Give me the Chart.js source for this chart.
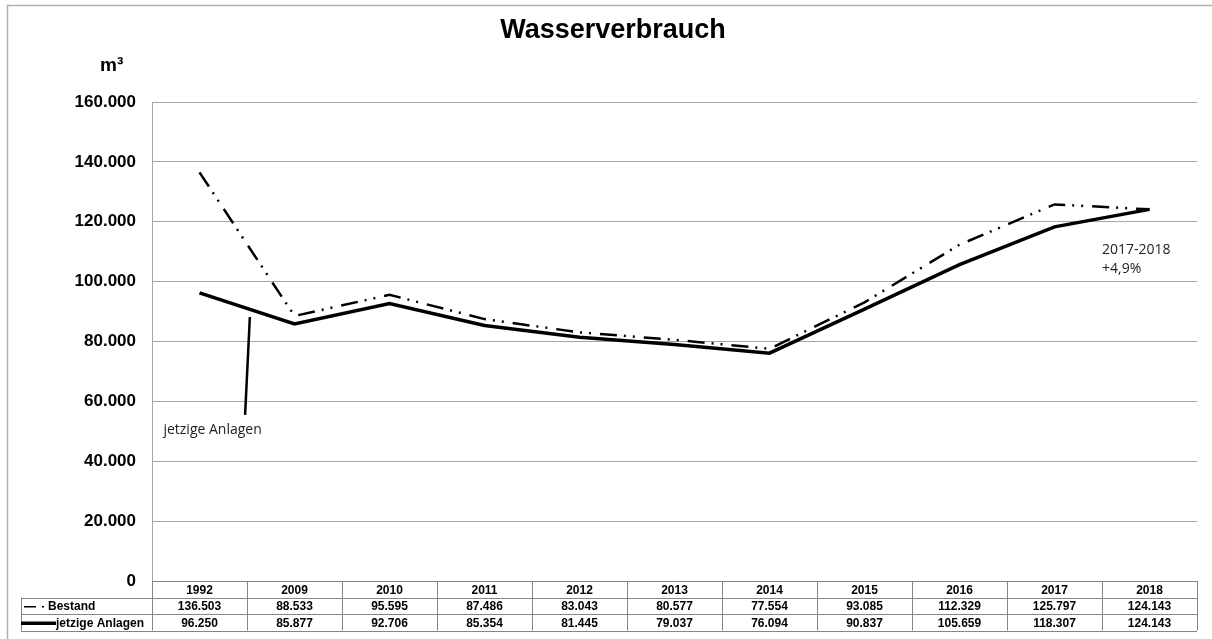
<!DOCTYPE html>
<html>
<head>
<meta charset="utf-8">
<title>Wasserverbrauch</title>
<script src="https://cdn.jsdelivr.net/npm/chart.js@4"></script>
<style>
  body { margin: 0; background: #fff; }
  canvas { display: block; }
</style>
</head>
<body>
<canvas id="myChart" width="1212" height="639"></canvas>
<script>
var years = ["1992", "2009", "2010", "2011", "2012", "2013", "2014", "2015", "2016", "2017", "2018"];
var bestand = [136503, 88533, 95595, 87486, 83043, 80577, 77554, 93085, 112329, 125797, 124143];
var jetzigeAnlagen = [96250, 85877, 92706, 85354, 81445, 79037, 76094, 90837, 105659, 118307, 124143];
var yTicks = [0, 20000, 40000, 60000, 80000, 100000, 120000, 140000, 160000];

var gridGray = "#a6a6a6";
var tableGray = "#858585";
var bestandDash = [17, 7, 2, 7, 2, 9];

function fmt(v) {
    return String(v).replace(/\B(?=(\d{3})+(?!\d))/g, ".");
}

// frame, title, unit label, annotations and the data table under the axis
var extras = {
    id: 'extras',
    beforeDraw: function (chart) {
        var c = chart.ctx;
        c.save();
        c.fillStyle = "#fff";
        c.fillRect(0, 0, chart.width, chart.height);
        c.strokeStyle = "#b0b0b0";
        c.lineWidth = 1.5;
        c.beginPath();
        c.moveTo(7.5, chart.height);
        c.lineTo(7.5, 5.5);
        c.lineTo(chart.width, 5.5);
        c.stroke();
        c.restore();
    },
    afterDraw: function (chart) {
        var c = chart.ctx;
        var x = chart.scales.x;
        var y = chart.scales.y;
        var area = chart.chartArea;
        c.save();

        // title + unit
        c.fillStyle = "#000";
        c.textAlign = "center";
        c.textBaseline = "alphabetic";
        c.font = "bold 27px 'Liberation Sans', Arial, sans-serif";
        c.fillText("Wasserverbrauch", 613, 38);
        c.font = "bold 19px 'Liberation Sans', Arial, sans-serif";
        c.textAlign = "left";
        c.fillText("m³", 100, 71);

        // annotation "jetzige Anlagen"
        c.strokeStyle = "#000";
        c.lineWidth = 2.5;
        c.beginPath();
        c.moveTo(x.getPixelForValue(0.53), y.getPixelForValue(88200));
        c.lineTo(x.getPixelForValue(0.48), y.getPixelForValue(55500));
        c.stroke();
        c.font = "14px 'Open Sans', 'Noto Sans', sans-serif";
        c.fillStyle = "#222";
        c.fillText("jetzige Anlagen", x.getPixelForValue(-0.38), y.getPixelForValue(49000));
        c.fillText("2017-2018", x.getPixelForValue(9.5), y.getPixelForValue(109200));
        c.fillText("+4,9%", x.getPixelForValue(9.5), y.getPixelForValue(103000));

        // data table
        var step = x.getPixelForValue(1) - x.getPixelForValue(0);
        var top = area.bottom;
        var rows = [top, top + 16.5, top + 33, top + 49.5];
        var labelLeft = 21;
        c.strokeStyle = tableGray;
        c.lineWidth = 1;
        c.beginPath();
        for (var r = 1; r < rows.length; r++) {
            c.moveTo(labelLeft, Math.round(rows[r]) + 0.5);
            c.lineTo(area.right, Math.round(rows[r]) + 0.5);
        }
        c.moveTo(area.left, Math.round(rows[0]) + 0.5);
        c.lineTo(area.right, Math.round(rows[0]) + 0.5);
        for (var i = 0; i <= years.length; i++) {
            var xb = Math.round(x.getPixelForValue(i) - step / 2) + 0.5;
            c.moveTo(xb, rows[0]);
            c.lineTo(xb, rows[3]);
        }
        c.moveTo(labelLeft + 0.5, rows[1]);
        c.lineTo(labelLeft + 0.5, rows[3]);
        c.stroke();

        c.fillStyle = "#000";
        c.textAlign = "center";
        c.textBaseline = "middle";
        c.font = "bold 12px 'Liberation Sans', Arial, sans-serif";
        var series = [years, bestand.map(fmt), jetzigeAnlagen.map(fmt)];
        for (var s = 0; s < series.length; s++) {
            var ym = (rows[s] + rows[s + 1]) / 2 + 1;
            for (var k = 0; k < years.length; k++) {
                c.fillText(series[s][k], x.getPixelForValue(k), ym);
            }
        }

        // legend keys in the table
        c.textAlign = "left";
        var y1 = (rows[1] + rows[2]) / 2 + 1;
        var y2 = (rows[2] + rows[3]) / 2 + 1;
        c.strokeStyle = "#000";
        c.lineWidth = 1.5;
        c.beginPath();
        c.moveTo(24, y1);
        c.lineTo(36, y1);
        c.moveTo(42, y1);
        c.lineTo(44, y1);
        c.stroke();
        c.fillText("Bestand", 48, y1);
        c.lineWidth = 3.5;
        c.beginPath();
        c.moveTo(21, y2);
        c.lineTo(56, y2);
        c.stroke();
        c.fillText("jetzige Anlagen", 56, y2);

        c.restore();
    }
};

var ctx = document.getElementById('myChart').getContext('2d');
var myChart = new Chart(ctx, {
    type: 'line',
    data: {
        labels: years,
        datasets: [
            {
                label: "Bestand",
                data: bestand,
                borderColor: "#000",
                borderWidth: 2.5,
                borderDash: bestandDash,
                pointRadius: 0,
                tension: 0,
                fill: false
            },
            {
                label: "jetzige Anlagen",
                data: jetzigeAnlagen,
                borderColor: "#000",
                borderWidth: 3.5,
                pointRadius: 0,
                tension: 0,
                fill: false
            }
        ]
    },
    options: {
        responsive: false,
        animation: false,
        devicePixelRatio: 1,
        layout: {
            padding: { left: 22, right: 15, top: 102, bottom: 58 }
        },
        scales: {
            x: {
                offset: true,
                grid: { display: false },
                ticks: { display: false },
                border: { display: true, color: gridGray, width: 1 },
                afterFit: function (scale) { scale.height = 0; }
            },
            y: {
                min: 0,
                max: 160000,
                afterBuildTicks: function (scale) {
                    scale.ticks = yTicks.map(function (v) { return { value: v }; });
                },
                afterFit: function (scale) { scale.width = 130; },
                grid: { color: gridGray, lineWidth: 1, drawTicks: false },
                border: { display: true, color: gridGray, width: 1 },
                ticks: {
                    padding: 16,
                    color: "#000",
                    font: { family: "'Liberation Sans', Arial, sans-serif", size: 17, weight: "bold" },
                    callback: function (v) { return fmt(v); }
                }
            }
        },
        plugins: {
            legend: { display: false },
            title: { display: false },
            tooltip: { enabled: false }
        }
    },
    plugins: [extras]
});
</script>
</body>
</html>
